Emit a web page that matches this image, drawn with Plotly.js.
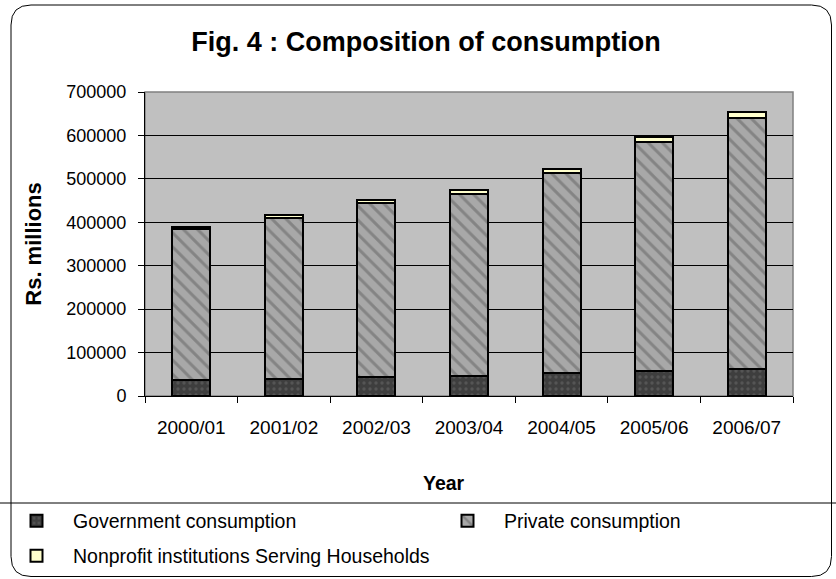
<!DOCTYPE html>
<html>
<head>
<meta charset="utf-8">
<script src="https://cdn.plot.ly/plotly-3.0.1.min.js"></script>
<style>
  html, body { margin: 0; padding: 0; background: #ffffff; }
  #chart { width: 836px; height: 579px; }
</style>
</head>
<body>
<div id="chart"></div>
<script>
// Composition of consumption, Rs. millions
const years = ["2000/01", "2001/02", "2002/03", "2003/04", "2004/05", "2005/06", "2006/07"];
const government = [36200, 38500, 43800, 46100, 53100, 57000, 63200];
const privateCons = [348200, 371200, 400200, 420000, 459700, 528200, 577300];
const nonprofit = [5500, 6500, 7500, 8500, 9500, 11000, 12500];
const yTicks = [0, 100000, 200000, 300000, 400000, 500000, 600000, 700000];

const W = 836, H = 579;
const M = { l: 145, r: 43, t: 92, b: 183, pad: 0 };
const PW = W - M.l - M.r, PH = H - M.t - M.b;
// pixel -> paper / container helpers for frame and legend placement
const px = x => (x - M.l) / PW;
const py = y => (H - M.b - y) / PH;
const cx = x => x / W;
const cy = y => 1 - y / H;

const FONT = "Arial, 'Liberation Sans', sans-serif";
const edge = { color: "#000000", width: 2 };

const traces = [
  {
    type: "bar", name: "Government consumption", x: years, y: government,
    legend: "legend", showlegend: true,
    marker: { color: "#3e3e3e", line: edge,
      pattern: { shape: ".", bgcolor: "#3e3e3e", fgcolor: "#555555",
                 fillmode: "replace", size: 6, solidity: 0.25 } }
  },
  {
    type: "bar", name: "Private consumption", x: years, y: privateCons,
    legend: "legend2", showlegend: true,
    marker: { color: "#a8a8a8", line: edge,
      pattern: { shape: "\\", bgcolor: "#a8a8a8", fgcolor: "#848484",
                 fillmode: "replace", size: 10, solidity: 0.3 } }
  },
  {
    type: "bar", name: "Nonprofit institutions Serving Households", x: years, y: nonprofit,
    legend: "legend3", showlegend: true,
    marker: { color: "#ffffcc", line: edge }
  }
];

// outer rounded frame
const x0 = 11, x1 = 831.5, y0 = 5, y1 = 576.5, r = 20;
const framePath =
  `M ${px(x0 + r)},${py(y0)} L ${px(x1 - r)},${py(y0)} ` +
  `Q ${px(x1)},${py(y0)} ${px(x1)},${py(y0 + r)} ` +
  `L ${px(x1)},${py(y1 - r)} Q ${px(x1)},${py(y1)} ${px(x1 - r)},${py(y1)} ` +
  `L ${px(x0 + r)},${py(y1)} Q ${px(x0)},${py(y1)} ${px(x0)},${py(y1 - r)} ` +
  `L ${px(x0)},${py(y0 + r)} Q ${px(x0)},${py(y0)} ${px(x0 + r)},${py(y0)} Z`;

const legendBase = (x, y) => ({
  visible: true,
  xref: "container", yref: "container", x: x, y: y,
  orientation: "h", xanchor: "left", yanchor: "middle",
  font: { family: FONT, size: 19.5, color: "#000000" },
  bgcolor: "rgba(0,0,0,0)", borderwidth: 0,
  itemwidth: 63,
  itemclick: false, itemdoubleclick: false
});

const layout = {
  width: W, height: H,
  margin: M,
  showlegend: true,
  paper_bgcolor: "rgba(0,0,0,0)",
  plot_bgcolor: "#c0c0c0",
  barmode: "stack",
  bargap: 0.59,
  font: { family: FONT, size: 19, color: "#000000" },
  title: {
    text: "<b>Fig. 4 : Composition of consumption</b>",
    font: { family: FONT, size: 27, color: "#000000" },
    x: cx(426), xanchor: "center", xref: "container",
    y: cy(42), yanchor: "middle", yref: "container"
  },
  xaxis: {
    type: "category",
    showline: true, linecolor: "#000000", linewidth: 1,
    ticks: "outside", ticklen: 6, tickcolor: "#000000", tickwidth: 1,
    tickson: "boundaries",
    ticklabelstandoff: 14,
    showgrid: false,
    tickfont: { family: FONT, size: 19 }
  },
  yaxis: {
    range: [0, 700000],
    tickvals: yTicks,
    tickformat: "d",
    showline: true, linecolor: "#000000", linewidth: 1,
    ticks: "outside", ticklen: 6, tickcolor: "#000000", tickwidth: 1,
    ticklabelstandoff: 8,
    showgrid: true, gridcolor: "#000000", gridwidth: 1,
    zeroline: false,
    tickfont: { family: FONT, size: 18 },
    title: { text: "<b>Rs. millions</b>", font: { family: FONT, size: 22 }, standoff: 18 }
  },
  legend: legendBase(cx(0), cy(521)),
  legend2: legendBase(cx(431), cy(521)),
  legend3: legendBase(cx(0), cy(556)),
  annotations: [
    { text: "<b>Year</b>", xref: "paper", yref: "paper", x: px(444), y: py(483),
      xanchor: "center", yanchor: "middle", showarrow: false,
      font: { family: FONT, size: 19.5, color: "#000000" } }
  ],
  shapes: [
    // plot-area border (top and right edges are grey)
    { type: "rect", xref: "paper", yref: "paper", x0: 0, x1: 1, y0: 0, y1: 1,
      line: { color: "#808080", width: 1.5 }, fillcolor: "rgba(0,0,0,0)", layer: "below" },
    // chart frame
    { type: "path", xref: "paper", yref: "paper", path: framePath,
      line: { color: "#000000", width: 1 }, fillcolor: "rgba(0,0,0,0)", layer: "below" },
    // separator above the legend
    { type: "line", xref: "paper", yref: "paper",
      x0: px(0), x1: px(W), y0: py(503), y1: py(503),
      line: { color: "#000000", width: 1 } }
  ]
};

Plotly.newPlot("chart", traces, layout, { staticPlot: true, displayModeBar: false });
</script>
</body>
</html>
